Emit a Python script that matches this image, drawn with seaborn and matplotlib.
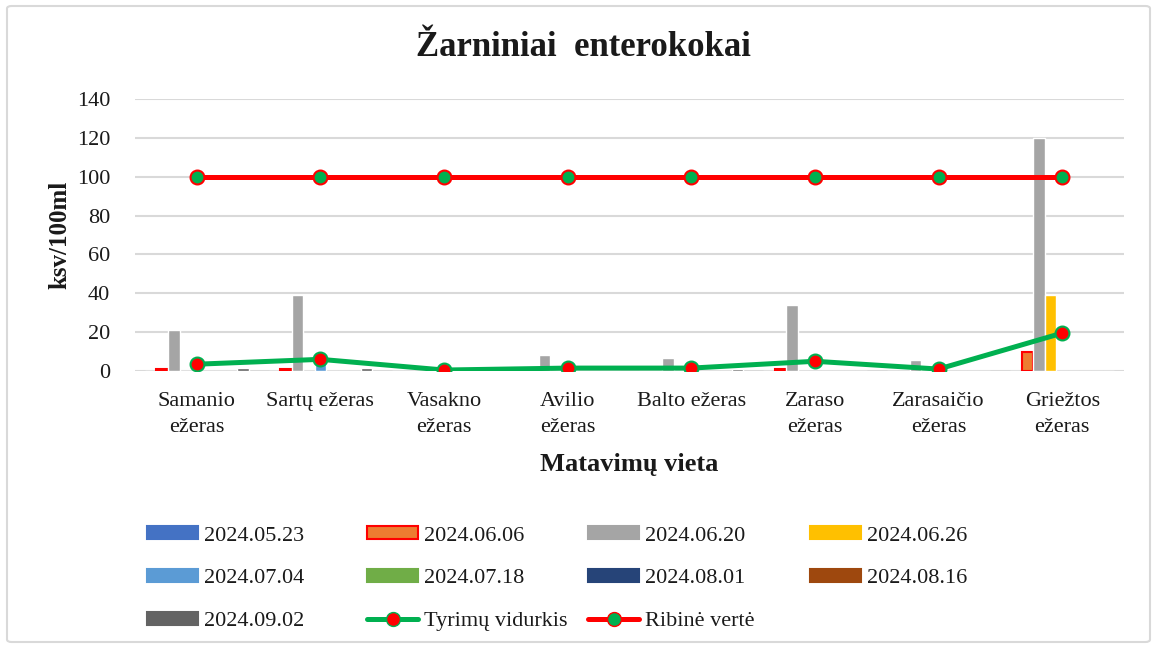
import matplotlib
matplotlib.use("Agg")

import matplotlib.pyplot as plt
import numpy as np
import pandas as pd
import seaborn as sns
from matplotlib.lines import Line2D
from matplotlib.patches import Patch, FancyBboxPatch

# --- donnees ---
sites = [
    "Samanio\nežeras", "Sartų ežeras", "Vasakno\nežeras", "Avilio\nežeras",
    "Balto ežeras", "Zaraso\nežeras", "Zarasaičio\nežeras", "Griežtos\nežeras",
]
dates = [
    "2024.05.23", "2024.06.06", "2024.06.20", "2024.06.26", "2024.07.04",
    "2024.07.18", "2024.08.01", "2024.08.16", "2024.09.02",
]
v_0523 = [0, 0, 0, 0, 0, 0, 0, 0]
v_0606 = [1, 1, 0, 0, 0, 1, 0, 10]
v_0620 = [21, 39, 0, 8, 6.5, 34, 5.5, 120]
v_0626 = [0, 0, 0, 0, 0, 0, 0, 39]
v_0704 = [0, 4, 0, 0, 0, 0, 0, 0]
v_0718 = [0, 0, 0, 0, 0, 0, 0, 0]
v_0801 = [0, 0, 0, 0, 0, 0, 0, 0]
v_0816 = [0, 0, 0, 0, 0, 0, 0, 0]
v_0902 = [1.5, 1.5, 0, 0, 1, 0, 0, 0]
mean_values = [3.5, 6, 0.5, 1.5, 1.5, 5, 1, 19.5]
limit_values = [100, 100, 100, 100, 100, 100, 100, 100]

series = [v_0523, v_0606, v_0620, v_0626, v_0704, v_0718, v_0801, v_0816, v_0902]
colors = ["#4472C4", "#ED7D31", "#A5A5A5", "#FFC000", "#5B9BD5",
          "#70AD47", "#264478", "#9E480E", "#636363"]
GREEN = "#00B050"
RED = "#FF0000"
GRID = "#D9D9D9"
TXT = "#1a1a1a"

df = pd.DataFrame(
    [(s, d, vals[i]) for d, vals in zip(dates, series) for i, s in enumerate(sites)],
    columns=["site", "date", "value"],
)

sns.set_theme(style="white")
plt.rcParams["font.family"] = ["Liberation Serif", "DejaVu Serif"]

fig = plt.figure(figsize=(11.55, 6.48), dpi=100)
fig.patches.append(FancyBboxPatch(
    (7 / 1155, 6 / 648), 1143 / 1155, 636 / 648, boxstyle="round,pad=0,rounding_size=0.004",
    transform=fig.transFigure, facecolor="none", edgecolor=GRID, linewidth=1.5, zorder=0,
))
ax = fig.add_axes([135 / 1155, 1 - 371 / 648, 989 / 1155, 272 / 648])

sns.barplot(
    data=df, x="site", y="value", hue="date", order=sites, hue_order=dates,
    palette=colors, saturation=1, width=0.84, legend=False, ax=ax, zorder=2,
)
for bar in ax.containers[1]:
    if bar.get_height() > 0:
        bar.set_edgecolor(RED)
        bar.set_linewidth(1.5)

xpos = np.arange(len(sites))
ax.plot(xpos, mean_values, color=GREEN, linewidth=3.6, marker="o", markersize=10,
        markerfacecolor=RED, markeredgecolor=GREEN, markeredgewidth=1.5, zorder=4)
ax.plot(xpos, limit_values, color=RED, linewidth=3.6, marker="o", markersize=10,
        markerfacecolor=GREEN, markeredgecolor=RED, markeredgewidth=1.5, zorder=4)

ax.set_xlim(-0.5, len(sites) - 0.5)
ax.set_ylim(0, 140)
ax.set_yticks(np.arange(0, 141, 20))
ax.yaxis.grid(True, color=GRID, linewidth=1.5)
ax.set_axisbelow(True)
for sp in ax.spines.values():
    sp.set_visible(False)
ax.tick_params(axis="both", length=0, labelsize=16, colors=TXT)
ax.tick_params(axis="y", pad=18)
ax.tick_params(axis="x", pad=15)
for lab in ax.get_xticklabels():
    lab.set_linespacing(1.5)
ax.set_xlabel("Matavimų vieta", fontsize=19, fontweight="bold", color=TXT, labelpad=12)
ax.set_ylabel("ksv/100ml", fontsize=18, fontweight="bold", color=TXT, labelpad=4)
fig.text(0.505, 1 - 48 / 648, "Žarniniai  enterokokai", ha="center", va="center",
         fontsize=25, fontweight="bold", color=TXT)

# legende : une colonne = un objet legend, pour coller aux positions Excel
def bar_handle(i):
    edge = RED if i == 1 else colors[i]
    return Patch(facecolor=colors[i], edgecolor=edge, linewidth=1.5)

mean_handle = Line2D([], [], color=GREEN, linewidth=3.6, marker="o", markersize=10,
                     markerfacecolor=RED, markeredgecolor=GREEN)
limit_handle = Line2D([], [], color=RED, linewidth=3.6, marker="o", markersize=10,
                      markerfacecolor=GREEN, markeredgecolor=RED)

columns = [
    (147, [bar_handle(0), bar_handle(4), bar_handle(8)], [dates[0], dates[4], dates[8]]),
    (367, [bar_handle(1), bar_handle(5), mean_handle], [dates[1], dates[5], "Tyrimų vidurkis"]),
    (588, [bar_handle(2), bar_handle(6), limit_handle], [dates[2], dates[6], "Ribinė vertė"]),
    (810, [bar_handle(3), bar_handle(7)], [dates[3], dates[7]]),
]
for x0, handles, labels in columns:
    fig.legend(
        handles, labels, loc="upper left", bbox_to_anchor=(x0 / 1155, 1 - 526 / 648),
        frameon=False, fontsize=16, handlelength=2.3, handleheight=0.55,
        handletextpad=0.25, labelspacing=1.05, borderpad=0, borderaxespad=0,
        labelcolor=TXT,
    )

fig.savefig("out.png", dpi=100)
plt.close(fig)
